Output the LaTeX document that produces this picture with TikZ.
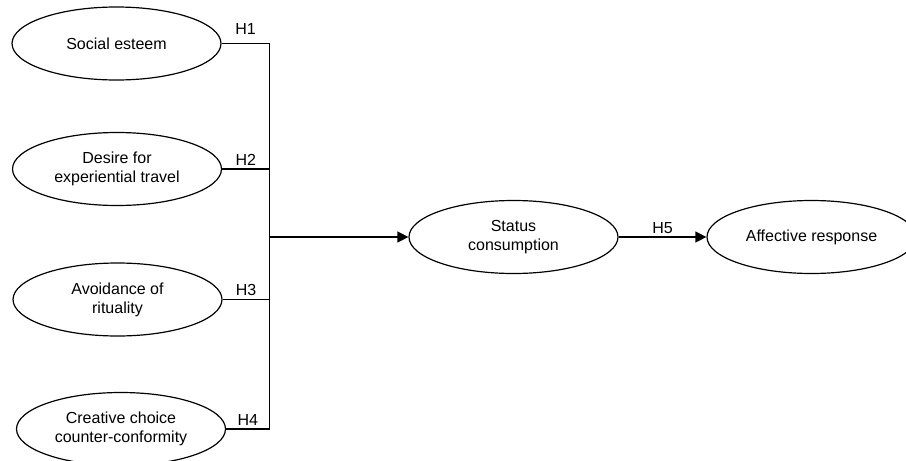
\documentclass[tikz,border=0pt]{standalone}
\usepackage{fontspec}
\setmainfont{Liberation Sans}
\usetikzlibrary{shapes.geometric,arrows.meta}
\begin{document}
\begin{tikzpicture}[x=1pt,y=-1pt,
  construct/.style={ellipse,draw,line width=1.2pt,minimum width=209pt,minimum height=73pt,
    inner sep=0pt,align=center,font=\fontsize{16}{19}\selectfont},
  link/.style={line width=1.2pt},
  arr/.style={link,-{Triangle[length=11pt,width=11pt]}},
  hlab/.style={font=\fontsize{16}{19}\selectfont,inner sep=0pt,above=3pt}]
\useasboundingbox (0,0) rectangle (906,461);
\fill[white] (0,0) rectangle (906,461);
% constructs
\node[construct] (se) at (116.5,43.5) {Social esteem};
\node[construct] (de) at (117,169) {Desire for\\experiential travel};
\node[construct] (av) at (117.5,299.5) {Avoidance of\\rituality};
\node[construct] (cc) at (121,429) {Creative choice\\counter-conformity};
\node[construct] (sc) at (513.5,237) {Status\\consumption};
\node[construct] (ar) at (811.5,237) {Affective response};
% junction points
\coordinate (j1) at (269.5,43.5);
\coordinate (j2) at (269.5,169);
\coordinate (j3) at (269.5,299.5);
\coordinate (j4) at (269.5,429);
\coordinate (jm) at (269.5,237);
% connectors
\draw[link] (se.east) -- node[hlab,above=5pt] {H1} (j1);
\draw[link] (de.east) -- node[hlab] {H2} (j2);
\draw[link] (av.east) -- node[hlab] {H3} (j3);
\draw[link] (cc.east) -- node[hlab] {H4} (j4);
\draw[link] (j1) -- (j4);
\draw[arr] (jm) -- (sc.west);
\draw[arr] (sc.east) -- node[hlab] {H5} (ar.west);
\end{tikzpicture}
\end{document}
